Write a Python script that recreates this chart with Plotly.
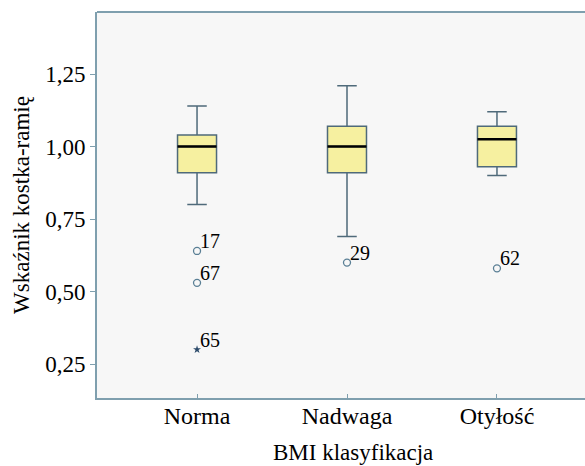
import plotly.graph_objects as go

categories = ["Norma", "Nadwaga", "Otyłość"]
lower_whisker = [0.80, 0.69, 0.90]
q1 = [0.91, 0.91, 0.93]
median = [1.00, 1.00, 1.025]
q3 = [1.04, 1.07, 1.07]
upper_whisker = [1.14, 1.21, 1.12]

outlier_cat = [0, 0, 1, 2]
outlier_val = [0.64, 0.53, 0.60, 0.58]
outlier_id = ["17", "67", "29", "62"]
extreme_cat = [0]
extreme_val = [0.30]
extreme_id = ["65"]

y_tickvals = [0.25, 0.50, 0.75, 1.00, 1.25]
y_ticktext = ["0,25", "0,50", "0,75", "1,00", "1,25"]

FONT = "Liberation Serif"
AX = "#7f9fae"
BOXW = 0.26

xs = list(range(len(categories)))
fig = go.Figure()
fig.add_trace(go.Box(
    x=xs, q1=q1, median=median, q3=q3,
    lowerfence=lower_whisker, upperfence=upper_whisker,
    width=BOXW, whiskerwidth=0.5,
    fillcolor="#f6f0a0", line=dict(color="#4f6a7a", width=1.5),
    boxpoints=False, showlegend=False, hoverinfo="skip"))

mx, my = [], []
for i, m in zip(xs, median):
    mx += [i - BOXW / 2, i + BOXW / 2, None]
    my += [m, m, None]
fig.add_trace(go.Scatter(x=mx, y=my, mode="lines",
                         line=dict(color="black", width=2.5),
                         showlegend=False, hoverinfo="skip"))

fig.add_trace(go.Scatter(
    x=outlier_cat, y=outlier_val, mode="markers",
    marker=dict(symbol="circle-open", size=7, color="#5a7f95", line=dict(width=1.3)),
    showlegend=False, hoverinfo="skip", cliponaxis=False))

fig.add_trace(go.Scatter(
    x=extreme_cat, y=extreme_val, mode="markers",
    marker=dict(symbol="star", size=6, color="#2b4a6a"),
    showlegend=False, hoverinfo="skip", cliponaxis=False))

annotations = []
for cx, cy, t in zip(outlier_cat + extreme_cat, outlier_val + extreme_val, outlier_id + extreme_id):
    annotations.append(dict(x=cx, y=cy, xref="x", yref="y", text=t, showarrow=False,
                            xanchor="left", yanchor="middle", xshift=1, yshift=10,
                            font=dict(family=FONT, size=20, color="black")))
annotations.append(dict(text="BMI klasyfikacja", xref="paper", yref="paper",
                        x=0.525, y=-0.14, xanchor="center", yanchor="middle",
                        showarrow=False, font=dict(size=23)))

fig.update_layout(
    width=585, height=466,
    margin=dict(l=97, r=0, t=12, b=68),
    paper_bgcolor="white", plot_bgcolor="#f7f7f7",
    font=dict(family=FONT, size=23, color="black"),
    xaxis=dict(range=[-0.667, 2.587], tickvals=xs, ticktext=categories,
               automargin=False, tickfont=dict(size=24), ticklabelstandoff=-5,
               showgrid=False, zeroline=False, showline=True, linecolor=AX, linewidth=2,
               ticks="inside", ticklen=4, tickcolor=AX),
    yaxis=dict(range=[0.133, 1.464], tickvals=y_tickvals, ticktext=y_ticktext,
               automargin=False,
               showgrid=False, zeroline=False, showline=True, linecolor=AX, linewidth=2,
               ticks="outside", ticklen=5, tickcolor=AX,
               title=dict(text="Wskaźnik kostka-ramię", standoff=9, font=dict(size=23))),
    annotations=annotations,
    shapes=[dict(type="line", xref="paper", yref="paper", x0=0, x1=1, y0=1, y1=1,
                 line=dict(color=AX, width=2))],
)

fig.write_html("out.html", config={"displayModeBar": False},
               post_script="document.body.style.margin='0';document.body.style.padding='0';")
